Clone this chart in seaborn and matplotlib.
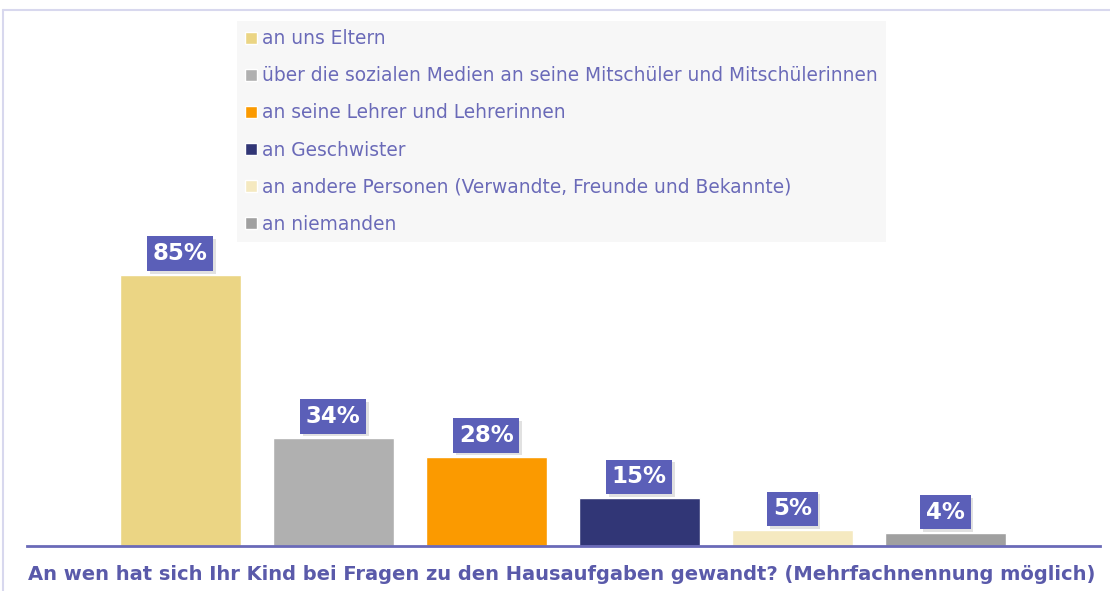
import matplotlib
matplotlib.use("Agg")
import matplotlib.pyplot as plt
import matplotlib.patheffects as pe
import seaborn as sns
from matplotlib.lines import Line2D

# data
categories = [
    "an uns Eltern",
    "über die sozialen Medien an seine Mitschüler und Mitschülerinnen",
    "an seine Lehrer und Lehrerinnen",
    "an Geschwister",
    "an andere Personen (Verwandte, Freunde und Bekannte)",
    "an niemanden",
]
values = [85, 34, 28, 15, 5, 4]
bar_colors = ["#ebd584", "#b0b0b0", "#fb9a00", "#313676", "#f5e9c0", "#a0a0a0"]
title = "An wen hat sich Ihr Kind bei Fragen zu den Hausaufgaben gewandt? (Mehrfachnennung möglich)"

TEXT_BLUE = "#6a6ab8"
BOX_BLUE = "#5b5fb8"

sns.set_style("white")
plt.rcParams["font.family"] = ["DejaVu Sans"]

W, H = 1110, 591
fig = plt.figure(figsize=(W / 100, H / 100), dpi=100)
ax = fig.add_axes([27 / W, 45 / H, (1100 - 27) / W, 516 / H])

sns.barplot(x=categories, y=values, hue=categories, palette=bar_colors,
            order=categories, hue_order=categories, width=0.79,
            legend=False, ax=ax, saturation=1)

ax.set_xlim(-1.0, 6.01)
ax.set_ylim(0, 516 / 3.19)
for s in ["top", "right", "left"]:
    ax.spines[s].set_visible(False)
ax.spines["bottom"].set_color(TEXT_BLUE)
ax.spines["bottom"].set_linewidth(2)
ax.set_xticks([])
ax.set_yticks([])
ax.set_xlabel("")
ax.set_ylabel("")

# value labels in blue boxes with a soft shadow
for i, v in enumerate(values):
    t = ax.annotate(f"{v}%", (i, v), xytext=(0, 7), textcoords="offset points",
                    ha="center", va="bottom", color="white", fontsize=16.5,
                    fontweight="bold",
                    bbox=dict(boxstyle="square,pad=0.25", fc=BOX_BLUE, ec="none"))
    t.get_bbox_patch().set_path_effects(
        [pe.SimplePatchShadow(offset=(2, -2), shadow_rgbFace="#aaaaaa", alpha=0.35),
         pe.Normal()])

# legend
handles = list(ax.patches)[:len(categories)]
lgd = fig.legend(handles, categories, loc="upper left",
                 bbox_to_anchor=(237 / W, 1 - 21 / H), borderaxespad=0,
                 frameon=True, fancybox=False, facecolor="#f7f7f7",
                 edgecolor="none", fontsize=13.4, labelcolor=TEXT_BLUE,
                 handlelength=0.6, handleheight=0.6, handletextpad=0.3,
                 labelspacing=0.97, borderpad=0.45)
lgd.get_frame().set_alpha(1)

# title under the baseline
fig.text(562 / W, 1 - 575 / H, title, ha="center", va="center",
         color="#5a5aaa", fontsize=14, fontweight="bold")

# thin frame at top and left
fig.add_artist(Line2D([3 / W, 1], [1 - 10 / H, 1 - 10 / H], color="#d8d8ee", lw=1.5))
fig.add_artist(Line2D([3 / W, 3 / W], [0, 1 - 10 / H], color="#d8d8ee", lw=1.5))

fig.savefig("out.png", dpi=100)
